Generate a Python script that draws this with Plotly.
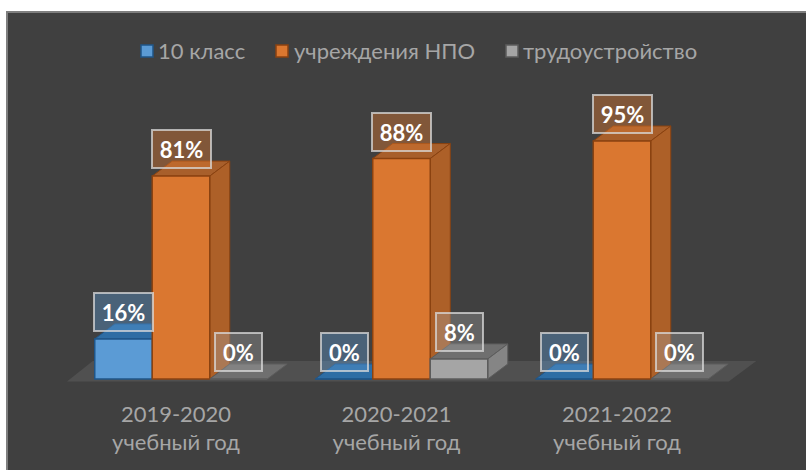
import plotly.graph_objects as go

categories = ["2019-2020<br>учебный год", "2020-2021<br>учебный год", "2021-2022<br>учебный год"]
series_names = ["10 класс", "учреждения НПО", "трудоустройство"]
values_10 = [16, 0, 0]
values_npo = [81, 88, 95]
values_job = [0, 8, 0]
all_values = [values_10, values_npo, values_job]

W, H = 806, 470
BASE_PX = 379.0
PX_PER_UNIT_Y = 2.505
CENTER0_PX = 181.0
GROUP_PX = 220.5
AXIS_BOTTOM_PX = 398.5
TICK_OFFSET = -5 / GROUP_PX
BAR_W = 57.5 / GROUP_PX
DX = 20 / GROUP_PX
DY = 15 / PX_PER_UNIT_Y

xr = [-CENTER0_PX / GROUP_PX, (W - CENTER0_PX) / GROUP_PX]
yr = [(BASE_PX - AXIS_BOTTOM_PX) / PX_PER_UNIT_Y, BASE_PX / PX_PER_UNIT_Y]
ydom = [(H - AXIS_BOTTOM_PX) / H, 1]

front = ["#5b9bd5", "#da7730", "#a5a5a5"]
edge = ["#1f5588", "#8a4210", "#5c5c5c"]
top_c = ["#2e6da4", "#a85f2b", "#6f6f6f"]
side_c = ["#3f78ad", "#ad6028", "#858585"]
label_bg = ["rgba(91,155,213,0.38)", "rgba(220,119,48,0.42)", "rgba(165,165,165,0.35)"]
positions = [-1, 0, 1]
legend_swatch_px = [(141, 153), (276, 288), (506, 518)]
legend_text_px = [157, 293, 522]
LEGEND_Y_PX = 51

fig = go.Figure()

# floor
fig.add_trace(go.Scatter(
    x=[-0.517, 2.484, 2.484 + 0.125, -0.40, -0.517], y=[-1.0, -1.0, 7.2, 7.2, -1.0],
    mode="lines", fill="toself", fillcolor="#505050", line=dict(width=0),
    showlegend=False, hoverinfo="skip"))

# depth faces, blue first so later series sit in front
for s, vals in enumerate(all_values):
    for g, v in enumerate(vals):
        x0 = g + positions[s] * BAR_W - BAR_W / 2
        x1 = x0 + BAR_W
        fig.add_trace(go.Scatter(
            x=[x0, x0 + DX, x1 + DX, x1, x0], y=[v, v + DY, v + DY, v, v],
            mode="lines", fill="toself", fillcolor=top_c[s],
            line=dict(color=edge[s], width=1), showlegend=False, hoverinfo="skip"))
        if v > 0:
            fig.add_trace(go.Scatter(
                x=[x1, x1 + DX, x1 + DX, x1, x1], y=[0, DY, v + DY, v, 0],
                mode="lines", fill="toself", fillcolor=side_c[s],
                line=dict(color=edge[s], width=1), showlegend=False, hoverinfo="skip"))

# front faces, on an overlaid axis pair so that they cover the depth faces
for s, vals in enumerate(all_values):
    fig.add_trace(go.Bar(
        x=[0, 1, 2], y=vals, name=series_names[s], xaxis="x2", yaxis="y2", showlegend=False,
        marker=dict(color=front[s], line=dict(color=edge[s], width=1.5))))

# data labels
for s, vals in enumerate(all_values):
    for g, v in enumerate(vals):
        fig.add_annotation(
            x=g + positions[s] * BAR_W, y=v, xref="x", yref="y", yshift=27,
            text=f"<b>{v}%</b>", showarrow=False,
            font=dict(family="Lato", size=22, color="#ffffff"),
            bgcolor=label_bg[s], bordercolor="rgba(217,217,217,0.75)", borderwidth=2,
            width=55 if v >= 10 else 43, height=34, align="center", valign="middle")

# legend row
shapes = [
    dict(type="rect", xref="paper", yref="paper", x0=7 / W, x1=1.01, y0=-0.01, y1=1 - 12 / H,
         fillcolor="#404040", line=dict(color="#7f7f7f", width=2), layer="below"),
]
for s, name in enumerate(series_names):
    a, b = legend_swatch_px[s]
    shapes.append(dict(type="rect", xref="paper", yref="paper", x0=a / W, x1=b / W,
                       y0=1 - (LEGEND_Y_PX + 6) / H, y1=1 - (LEGEND_Y_PX - 6) / H,
                       fillcolor=front[s], line=dict(color=edge[s], width=1.5)))
    fig.add_annotation(
        x=legend_text_px[s] / W, y=1 - LEGEND_Y_PX / H, xref="paper", yref="paper",
        xanchor="left", yanchor="middle", text=name, showarrow=False, borderpad=0,
        font=dict(family="Lato", size=22, color="#a6a6a6"))

fig.update_layout(
    width=W, height=H, margin=dict(l=0, r=0, t=0, b=0),
    paper_bgcolor="#ffffff", plot_bgcolor="rgba(0,0,0,0)",
    barmode="group", bargap=1 - 3 * BAR_W, bargroupgap=0,
    font=dict(family="Lato"), showlegend=False,
    xaxis=dict(range=xr, tickmode="array", tickvals=[g + TICK_OFFSET for g in range(3)], ticktext=categories,
               showgrid=False, zeroline=False, showline=False, ticks="",
               tickfont=dict(family="Lato", size=22, color="#a6a6a6")),
    yaxis=dict(range=yr, domain=ydom, visible=False, showgrid=False, zeroline=False),
    xaxis2=dict(range=xr, overlaying="x", visible=False),
    yaxis2=dict(range=yr, domain=ydom, overlaying="y", visible=False),
    shapes=shapes,
)

fig.write_html("out.html", config={"displayModeBar": False},
               post_script="document.body.style.margin='0';document.body.style.overflow='hidden';")
